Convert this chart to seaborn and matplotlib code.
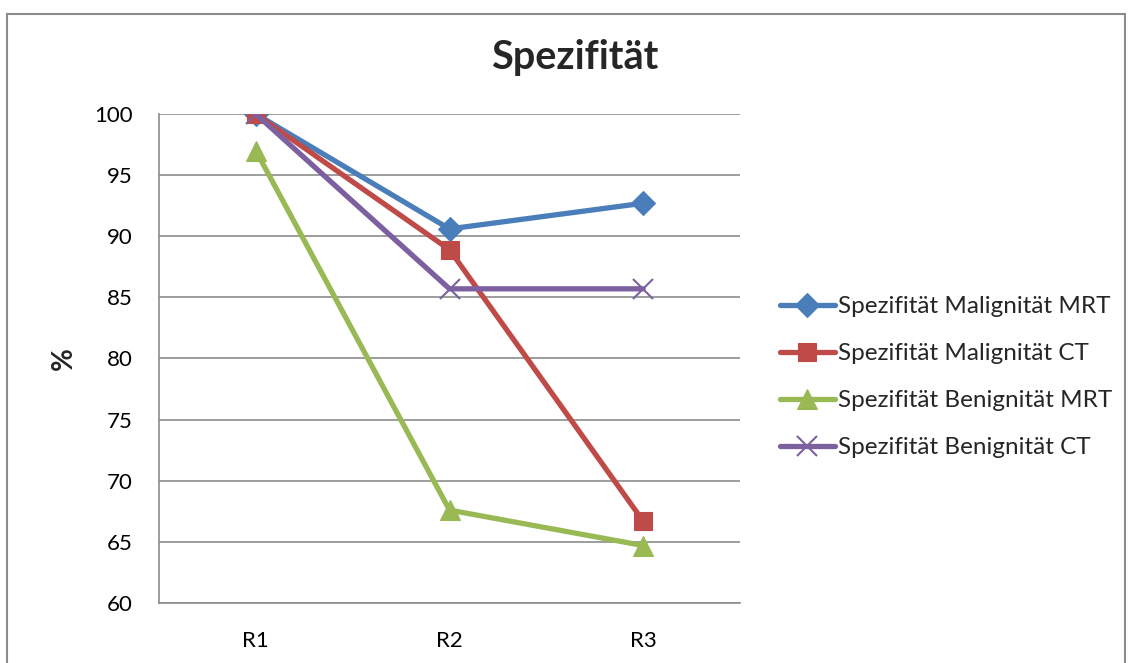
import matplotlib
matplotlib.use("Agg")
import matplotlib.pyplot as plt
import matplotlib.patches as mpatches
import pandas as pd
import seaborn as sns

rounds = ["R1", "R2", "R3"]
series_names = [
    "Spezifität Malignität MRT",
    "Spezifität Malignität CT",
    "Spezifität Benignität MRT",
    "Spezifität Benignität CT",
]
malignitaet_mrt = [100.0, 90.6, 92.7]
malignitaet_ct = [100.0, 88.9, 66.7]
benignitaet_mrt = [97.0, 67.6, 64.7]
benignitaet_ct = [100.0, 85.7, 85.7]
y_ticks = [60, 65, 70, 75, 80, 85, 90, 95, 100]

values = [malignitaet_mrt, malignitaet_ct, benignitaet_mrt, benignitaet_ct]
df = pd.DataFrame(
    [(s, r, v) for s, vals in zip(series_names, values) for r, v in zip(rounds, vals)],
    columns=["Serie", "Runde", "Wert"],
)
df["pos"] = df["Runde"].map({r: i for i, r in enumerate(rounds)})

sns.set_style("white")
plt.rcParams["font.family"] = ["Lato", "DejaVu Sans"]

colors = ["#4A7EBB", "#BE4B48", "#98B954", "#7D60A0"]
markers = ["D", "s", "^", "x"]
msizes = [12, 13, 14, 14]

fig = plt.figure(figsize=(11.31, 6.63), dpi=100)
ax = fig.add_axes([159 / 1131, 1 - 603 / 663, (740 - 159) / 1131, (603 - 114) / 663])

for name, col, mk, ms in zip(series_names, colors, markers, msizes):
    sub = df[df["Serie"] == name]
    sns.lineplot(
        data=sub, x="pos", y="Wert", ax=ax, color=col, linewidth=3.8,
        marker=mk, markersize=ms, markeredgecolor=col,
        markeredgewidth=1.5 if mk == "x" else 0.8, label=name,
    )

ax.set_xlim(-0.5, 2.5)
ax.set_ylim(60, 100)
ax.set_xticks(range(len(rounds)))
ax.set_xticklabels(rounds)
ax.set_yticks(y_ticks)
ax.yaxis.grid(True, color="#8C8C8C", linewidth=1.2)
ax.set_axisbelow(True)
ax.tick_params(axis="both", length=0, labelsize=16, colors="#000000")
ax.tick_params(axis="y", pad=19)
ax.tick_params(axis="x", pad=20)
for side in ["top", "right"]:
    ax.spines[side].set_visible(False)
for side in ["left", "bottom"]:
    ax.spines[side].set_color("#8C8C8C")
    ax.spines[side].set_linewidth(1.2)

ax.set_xlabel("")
ax.set_ylabel("%", fontsize=20, fontweight="bold", labelpad=12)

fig.text(575 / 1131, 1 - 57 / 663, "Spezifität", ha="center", va="center",
         fontsize=28.5, fontweight="bold")

leg = ax.legend(
    loc="center left", bbox_to_anchor=(1.052, 0.462), frameon=False,
    fontsize=17.5, handlelength=2.26, handletextpad=0.12, labelspacing=1.07,
    borderaxespad=0,
)

# outer chart frame
frame = mpatches.Rectangle(
    (7 / 1131, -0.05), (1125 - 7) / 1131, 1 - 14 / 663 + 0.05,
    transform=fig.transFigure, fill=False, edgecolor="#8C8C8C",
    linewidth=1.5, clip_on=False,
)
fig.patches.append(frame)

fig.savefig("out.png", dpi=100)
